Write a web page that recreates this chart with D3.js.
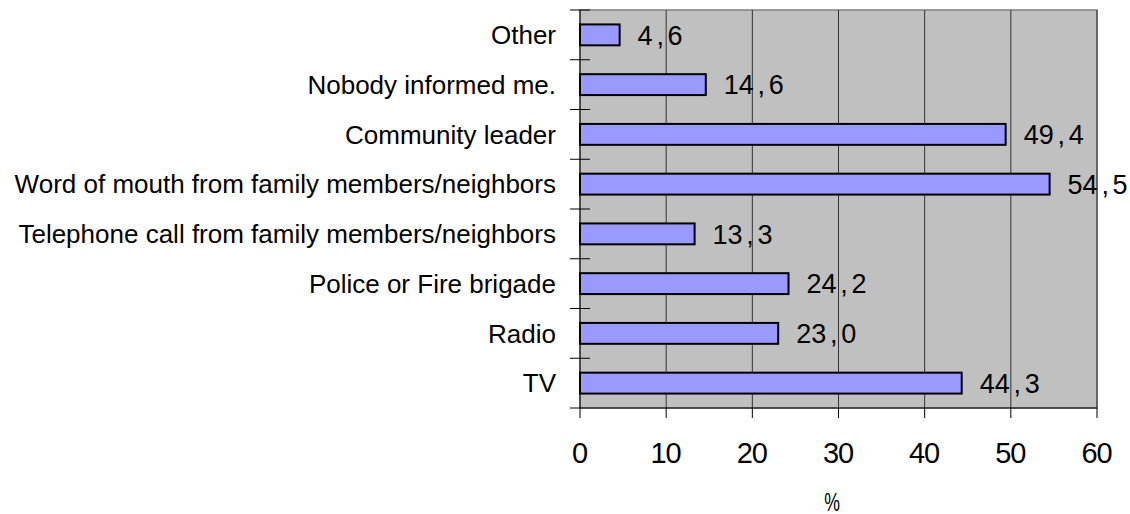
<!DOCTYPE html>
<html>
<head>
<meta charset="utf-8">
<script src="https://cdn.jsdelivr.net/npm/d3@7"></script>
<style>
  body { margin: 0; background: #fff; }
  svg { display: block; }
</style>
</head>
<body>
<div id="chart"></div>
<script>
var categories = [
    "Other",
    "Nobody informed me.",
    "Community leader",
    "Word of mouth from family members/neighbors",
    "Telephone call from family members/neighbors",
    "Police or Fire brigade",
    "Radio",
    "TV"
];
var values = [4.6, 14.6, 49.4, 54.5, 13.3, 24.2, 23.0, 44.3];
var xTicks = [0, 10, 20, 30, 40, 50, 60];
var xTitle = "%";

var width = 1130, height = 514;
var plotLeft = 580, plotRight = 1097, plotTop = 10, plotBottom = 408;
var font = "Liberation Sans, Arial, sans-serif";

var svg = d3.select("#chart").append("svg")
    .attr("width", width)
    .attr("height", height);

var x = d3.scaleLinear().domain([0, 60]).range([plotLeft, plotRight]);
var y = d3.scaleBand().domain(categories).range([plotTop, plotBottom])
    .paddingInner(0.58).paddingOuter(0.29);
var step = y.step();

// fixed-pitch placement of number characters (gothic style, comma gets a full cell)
function charXs(str, start, pitch, fontSize) {
    return str.split("").map(function(c, i) {
        var adv = (c == "," ? 0.278 : 0.556) * fontSize;
        return (start + i * pitch + (pitch - adv) / 2).toFixed(1);
    }).join(" ");
}

// plot background
svg.append("rect")
    .attr("x", plotLeft).attr("y", plotTop)
    .attr("width", plotRight - plotLeft).attr("height", plotBottom - plotTop)
    .attr("fill", "#c0c0c0")
    .attr("stroke", "#808080")
    .attr("stroke-width", 1.5);

// vertical grid lines
svg.append("g").selectAll("line")
    .data(xTicks.slice(1))
    .enter().append("line")
    .attr("x1", function(d) { return x(d); })
    .attr("x2", function(d) { return x(d); })
    .attr("y1", plotTop).attr("y2", plotBottom)
    .attr("stroke", "#333")
    .attr("stroke-width", 1);

// bars
svg.append("g").selectAll("rect")
    .data(values)
    .enter().append("rect")
    .attr("x", x(0))
    .attr("y", function(d, i) { return y(categories[i]); })
    .attr("width", function(d) { return x(d) - x(0); })
    .attr("height", y.bandwidth())
    .attr("fill", "#9999ff")
    .attr("stroke", "#000")
    .attr("stroke-width", 2);

// value labels
svg.append("g").selectAll("text")
    .data(values)
    .enter().append("text")
    .attr("x", function(d) {
        return charXs(d.toFixed(1).replace(".", ","), x(d) + 18, 15, 27);
    })
    .attr("y", function(d, i) { return y(categories[i]) + y.bandwidth() / 2; })
    .attr("dy", "0.36em")
    .attr("font-family", font)
    .attr("font-size", 27)
    .attr("fill", "#000")
    .text(function(d) { return d.toFixed(1).replace(".", ","); });

// y axis: line, boundary ticks, labels
var yAxis = svg.append("g");
yAxis.append("line")
    .attr("x1", plotLeft).attr("x2", plotLeft)
    .attr("y1", plotTop).attr("y2", plotBottom)
    .attr("stroke", "#000");
yAxis.selectAll(".ytick")
    .data(d3.range(categories.length + 1))
    .enter().append("line")
    .attr("class", "ytick")
    .attr("x1", plotLeft - 10)
    .attr("x2", function(i) { return i == categories.length ? plotRight : plotLeft + 10; })
    .attr("y1", function(i) { return plotTop + i * step; })
    .attr("y2", function(i) { return plotTop + i * step; })
    .attr("stroke", "#000");
yAxis.selectAll(".ylabel")
    .data(categories)
    .enter().append("text")
    .attr("class", "ylabel")
    .attr("x", plotLeft - 24)
    .attr("y", function(d) { return y(d) + y.bandwidth() / 2; })
    .attr("dy", "0.36em")
    .attr("text-anchor", "end")
    .attr("font-family", font)
    .attr("font-size", 26)
    .attr("fill", "#000")
    .text(function(d) { return d; });

// x axis ticks + labels
var xAxis = svg.append("g");
xAxis.selectAll("line")
    .data(xTicks)
    .enter().append("line")
    .attr("x1", function(d) { return x(d); })
    .attr("x2", function(d) { return x(d); })
    .attr("y1", plotBottom).attr("y2", plotBottom + 10)
    .attr("stroke", "#000");
xAxis.selectAll("text")
    .data(xTicks)
    .enter().append("text")
    .attr("x", function(d) {
        var s = String(d);
        return charXs(s, x(d) - s.length * 15 / 2, 15, 29);
    })
    .attr("y", 463)
    .attr("font-family", font)
    .attr("font-size", 29)
    .attr("fill", "#000")
    .text(function(d) { return d; });

svg.append("text")
    .attr("transform", "translate(832,511) scale(0.68,1)")
    .attr("text-anchor", "middle")
    .attr("font-family", font)
    .attr("font-size", 26)
    .attr("fill", "#000")
    .text(xTitle);
</script>
</body>
</html>
